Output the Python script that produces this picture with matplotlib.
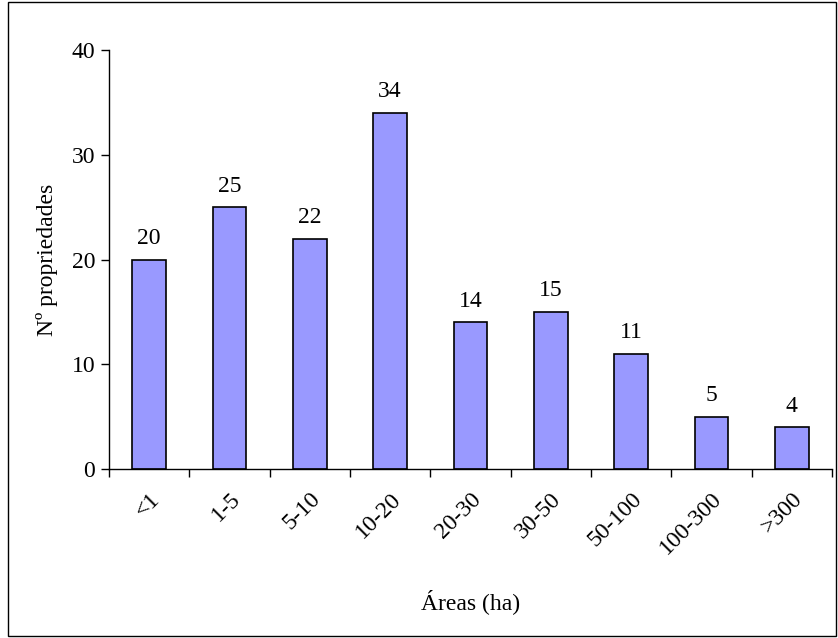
import matplotlib
matplotlib.use("Agg")
import matplotlib.pyplot as plt
from matplotlib.patches import Rectangle
import numpy as np

categories = ["<1", "1-5", "5-10", "10-20", "20-30", "30-50", "50-100", "100-300", ">300"]
values = [20, 25, 22, 34, 14, 15, 11, 5, 4]

plt.rcParams['font.family'] = ['Liberation Serif', 'DejaVu Serif']
FS = 17

fig = plt.figure(figsize=(8.38, 6.38), dpi=100)
fig.patches.append(Rectangle((8/838, 2/638), 828/838, 634/638, transform=fig.transFigure,
                             fill=False, edgecolor='black', linewidth=1.0))
ax = fig.add_axes([109/838, 169/638, 723/838, 419/638])

x = np.arange(len(categories))
bars = ax.bar(x, values, width=0.42, color='#9999FF', edgecolor='black', linewidth=1.2)
for xi, v in zip(x, values):
    ax.text(xi, v + 1.0, str(v), ha='center', va='bottom', fontsize=FS)

ax.set_xlim(-0.5, len(categories) - 0.5)
ax.set_ylim(0, 40)
ax.set_yticks([0, 10, 20, 30, 40])
ax.tick_params(axis='y', labelsize=FS, length=6, width=1, direction='out', pad=4)
ax.set_xticks(np.arange(-0.5, len(categories), 1.0))
ax.set_xticklabels([])
ax.set_xticks(x, minor=True)
ax.set_xticklabels(categories, minor=True, rotation=45, ha='right', va='top',
                   rotation_mode='anchor', fontsize=FS)
ax.tick_params(axis='x', which='major', length=6, width=1, direction='out')
ax.tick_params(axis='x', which='minor', length=0, pad=14)
for s in ['top', 'right']:
    ax.spines[s].set_visible(False)
for s in ['left', 'bottom']:
    ax.spines[s].set_linewidth(1.0)

ax.set_ylabel("Nº propriedades", fontsize=FS, labelpad=10)
ax.set_xlabel("Áreas (ha)", fontsize=FS, labelpad=22)

fig.savefig("out.png", dpi=100)
